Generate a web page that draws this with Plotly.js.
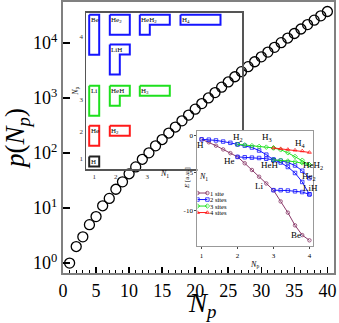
<!DOCTYPE html>
<html>
<head>
<meta charset="utf-8">
<script src="https://cdn.plot.ly/plotly-3.0.1.min.js"></script>
<style>
body{margin:0;background:#fff;}
#grafico{width:339px;height:323px;}
</style>
</head>
<body>
<div id="grafico"></div>
<script>
// curva principal: p(Np)
const np = [1,2,3,4,5,6,7,8,9,10,11,12,13,14,15,16,17,18,19,20,21,22,23,24,25,26,27,28,29,30,31,32,33,34,35,36,37,38,39,40];
const pNp = [1,2,3,5,7,11,15,22,30,42,56,77,101,135,176,231,297,385,490,627,792,1002,1255,1575,1958,2436,3010,3718,4565,5604,6842,8349,10143,12310,14883,17977,21637,26015,31185,37338];

// recuadro izquierdo: diagramas
const moleculas = ['H','He','H<sub>2</sub>','Li','HeH','H<sub>3</sub>','Be','He<sub>2</sub>','HeH<sub>2</sub>','H<sub>4</sub>','LiH'];
const particiones = [[1],[2],[1,1],[3],[2,1],[1,1,1],[4],[2,2],[2,1,1],[1,1,1,1],[3,1]];
const columna = [0,0,1,0,1,2,0,1,2,3,1];
const fila = [0,1,1,2,2,2,3,3,3,3,4];

// recuadro derecho: energias
const np1a = [1,1.2,1.4,1.6,1.8,2,2.2,2.4,2.6,2.8,3,3.2,3.4,3.6,3.8,4];
const e1a = [-0.5,-0.9,-1.35,-1.85,-2.35,-2.85,-3.7,-4.6,-5.5,-6.4,-7.3,-8.8,-10.3,-12.0,-13.3,-14.0];

const np12 = [1,1.2,1.4,1.6,1.8,2];
const np23 = [2,2.2,2.4,2.6,2.8,3];
const np34 = [3,3.2,3.4,3.6,3.8,4];

const e2_H_H2 = [-0.5,-0.55,-0.65,-0.8,-0.97,-1.17];
const e2_H2_HeH = [-1.17,-1.35,-1.6,-2.0,-2.55,-3.25];
const e2_He_HeH = [-2.85,-2.9,-2.95,-3.0,-3.1,-3.25];
const e2_HeH_He2 = [-3.25,-3.35,-3.6,-4.0,-4.7,-5.7];
const e2_HeH_LiH = [-3.25,-3.6,-4.2,-5.0,-6.2,-7.85];
const e2_Li_LiH = [-7.3,-7.3,-7.35,-7.45,-7.55,-7.85];

const e3_H2_H3 = [-1.17,-1.25,-1.35,-1.45,-1.55,-1.65];
const e3_H3_HeH2 = [-1.65,-1.9,-2.3,-2.8,-3.3,-3.9];
const e3_HeH_HeH2 = [-3.25,-3.3,-3.4,-3.5,-3.65,-3.9];

const e4_H3_H4 = [-1.65,-1.75,-1.85,-1.95,-2.05,-2.25];

const sitios = ['1 site','2 sites','3 sites','4 sites'];

// geometria (pixeles del lienzo)
const L = 63, T = 2, W = 271, H = 271;
function px(x){ return (x - L) / W; }
function py(y){ return (T + H - y) / H; }

const colorNp = ['#222222','#ff1a1a','#1ee01e','#1515ff'];
const colorSitio = ['#8a3a6a','#1515ff','#1ee01e','#ff1a1a'];
const simbolo = ['circle-open','square-open','diamond-open','triangle-up-open'];

let data = [];

data.push({
	x: np, y: pNp, xaxis:'x', yaxis:'y',
	type:'scatter', mode:'markers',
	marker:{symbol:'circle-open', size:10, color:'black', line:{width:1.3, color:'black'}},
	cliponaxis:false
});

// diagramas de Young
const colX = [0.32, 2.38, 5.38, 9.45];
const filaY = [1.25, 4.32, 8.32, 15.42, 12.45];
let anotaciones = [];
for (var i = 0; i < moleculas.length; i++) {
	let part = particiones[i];
	let x0 = colX[columna[i]], y0 = filaY[fila[i]];
	let n = part.length;
	let xs = [x0, x0 + n], ys = [y0, y0];
	for (var k = n - 1; k >= 0; k--) {
		xs.push(x0 + k + 1, x0 + k);
		ys.push(y0 - part[k], y0 - part[k]);
	}
	xs.push(x0); ys.push(y0);
	let total = part.reduce((a, b) => a + b, 0);
	data.push({
		x: xs, y: ys, xaxis:'x2', yaxis:'y2',
		type:'scatter', mode:'lines',
		line:{color: colorNp[total - 1], width:2},
		hoverinfo:'skip'
	});
	anotaciones.push({
		xref:'x2', yref:'y2', x: x0 + 0.05, y: y0 - 0.05,
		xanchor:'left', yanchor:'top', showarrow:false,
		text: moleculas[i], font:{size:7, color:'black'}, borderpad:0
	});
}

// curvas de energia
function curva(xs, ys, s) {
	data.push({
		x: xs, y: ys, xaxis:'x3', yaxis:'y3',
		type:'scatter', mode:'lines+markers',
		line:{color: colorSitio[s], width:1},
		marker:{symbol: simbolo[s], size:3.5, color: colorSitio[s], line:{width:0.8, color: colorSitio[s]}}
	});
}
curva(np1a, e1a, 0);
curva(np12, e2_H_H2, 1);
curva(np23, e2_H2_HeH, 1);
curva(np23, e2_He_HeH, 1);
curva(np34, e2_HeH_He2, 1);
curva(np34, e2_HeH_LiH, 1);
curva(np34, e2_Li_LiH, 1);
curva(np23, e3_H2_H3, 2);
curva(np34, e3_H3_HeH2, 2);
curva(np34, e3_HeH_HeH2, 2);
curva(np34, e4_H3_H4, 3);

// leyenda manual
const filaLey = [-7.68, -8.55, -9.42, -10.29];
for (var s = 0; s < sitios.length; s++) {
	data.push({
		x:[0.885, 1.16], y:[filaLey[s], filaLey[s]], xaxis:'x3', yaxis:'y3',
		type:'scatter', mode:'lines+markers',
		line:{color: colorSitio[s], width:1},
		marker:{symbol: simbolo[s], size:3.5, color: colorSitio[s], line:{width:0.8, color: colorSitio[s]}}
	});
	anotaciones.push({
		xref:'paper', yref:'paper', x: px(209), y: py(193 + 6.5 * s),
		xanchor:'left', yanchor:'middle', showarrow:false, borderpad:0,
		text: sitios[s], font:{size:6.5, color:'black'}
	});
}
anotaciones.push({xref:'paper', yref:'paper', x: px(203), y: py(184), showarrow:false,
	text:'<i>N</i><sub>1</sub>', font:{size:8, color:'black'}});

// etiquetas de moleculas
const etiquetas = ['H','H<sub>2</sub>','H<sub>3</sub>','H<sub>4</sub>','He','HeH','HeH<sub>2</sub>','He<sub>2</sub>','LiH','Li','Be'];
const etiqX = [200.5, 238, 274, 308, 229, 280, 325, 318, 320, 264.5, 303];
const etiqY = [145, 137, 137.5, 143.5, 160.5, 165.5, 165, 176.5, 194.5, 192.5, 241.5];
for (var j = 0; j < etiquetas.length; j++) {
	anotaciones.push({
		xref:'paper', yref:'paper', x: px(etiqX[j]), y: py(etiqY[j]),
		showarrow:false, text: etiquetas[j], font:{size:9, color:'black'}
	});
}

// titulos
anotaciones.push({xref:'paper', yref:'paper', x: px(164), y: py(173.5), showarrow:false,
	text:'<i>N</i><sub>1</sub>', font:{size:8, color:'black'}});
anotaciones.push({xref:'paper', yref:'paper', x: px(187), y: py(178), showarrow:false, textangle:-90,
	text:'<i>E</i> [a.u.]', font:{size:7, color:'black'}});
anotaciones.push({xref:'paper', yref:'paper', x: px(202), y: py(305), showarrow:false,
	xanchor:'center', yanchor:'middle', borderpad:0,
	text:'<i>N</i><sub><i>p</i></sub>', font:{size:27, color:'black'}});

var fondo = [{
	type:'rect', xref:'x3', yref:'y3', x0:0.88, x1:4.1, y0:-14.8, y1:0.65,
	fillcolor:'white', line:{width:0}, layer:'below'
}];

var layout = {
	width:339, height:323,
	margin:{l:L, r:339 - L - W, t:T, b:323 - T - H},
	paper_bgcolor:'white', plot_bgcolor:'rgba(0,0,0,0)',
	showlegend:false,
	font:{family:'"Liberation Serif", "Times New Roman", serif', color:'black'},
	xaxis:{
		domain:[0,1], anchor:'y', range:[0,41], tick0:0, dtick:5,
		ticks:'inside', ticklen:6, tickwidth:1.5, tickcolor:'black',
		minor:{dtick:1, ticks:'inside', ticklen:3, tickwidth:1, tickcolor:'black'},
		showline:true, mirror:true, linecolor:'#808080', linewidth:2,
		showgrid:false, zeroline:false, tickfont:{size:18}
	},
	yaxis:{
		domain:[0,1], anchor:'x', type:'log', range:[-0.18,4.745],
		tickvals:[1,10,100,1000,10000],
		ticktext:['10<sup>0</sup>','10<sup>1</sup>','10<sup>2</sup>','10<sup>3</sup>','10<sup>4</sup>'],
		ticks:'inside', ticklen:7, tickwidth:1.5, tickcolor:'black',
		showline:true, mirror:true, linecolor:'#808080', linewidth:2,
		showgrid:false, zeroline:false, tickfont:{size:18},
		title:{text:'<i>p</i>(<i>N</i><sub><i>p</i></sub>)', font:{size:27}, standoff:2}
	},
	xaxis2:{
		domain:[px(86), px(242)], anchor:'y2', range:[0,15.6],
		tickvals:[0.83,2.97,6.13], ticktext:['1','2','3'], ticks:'',
		showline:true, mirror:true, linecolor:'#555', linewidth:1.5,
		showgrid:false, zeroline:false, tickfont:{size:7, color:'#333'}
	},
	yaxis2:{
		domain:[py(169), py(12.5)], anchor:'x2', range:[0,15.65],
		tickvals:[1.03,3.7,6.9,13.25], ticktext:['1','2','3','4'], ticks:'',
		showline:true, mirror:true, linecolor:'#555', linewidth:1.5,
		showgrid:false, zeroline:false, tickfont:{size:7, color:'#333'},
		title:{text:'<i>N</i><sub>p</sub>', font:{size:8}, standoff:0}
	},
	xaxis3:{
		domain:[px(197.3), px(313)], anchor:'y3', range:[0.88,4.1],
		tickvals:[1,2,3,4], ticktext:['1','2','3','4'],
		ticks:'outside', ticklen:2, tickcolor:'#444',
		showline:true, mirror:true, linecolor:'#999', linewidth:1,
		showgrid:false, zeroline:false, tickfont:{size:7},
		title:{text:'<i>N</i><sub>p</sub>', font:{size:8}, standoff:2}
	},
	yaxis3:{
		domain:[py(246.3), py(130.7)], anchor:'x3', range:[-14.8,0.65],
		tickvals:[0,-5,-10], ticktext:['0','-5','-10'],
		ticks:'outside', ticklen:2, tickcolor:'#444',
		showline:true, mirror:true, linecolor:'#999', linewidth:1,
		showgrid:false, zeroline:false, tickfont:{size:7}
	},
	shapes: fondo,
	annotations: anotaciones
};

var config = {staticPlot:true};

Plotly.newPlot('grafico', data, layout, config);
</script>
</body>
</html>
